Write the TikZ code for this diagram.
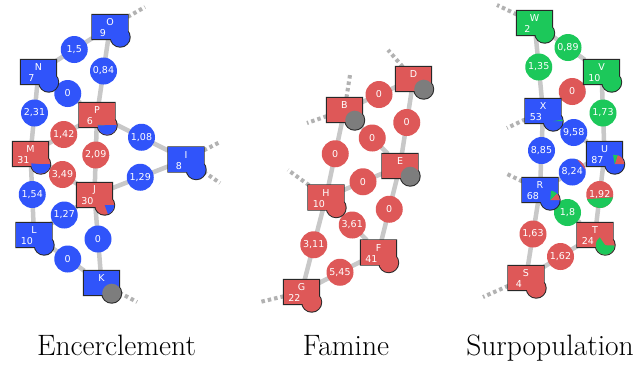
\documentclass[tikz,border=0pt]{standalone}
\usepackage{fontspec}
\newfontfamily\lblfont{DejaVu Sans}
\usetikzlibrary{calc}

\pgfdeclarelayer{bg}
\pgfdeclarelayer{mid}
\pgfdeclarelayer{fg}
\pgfsetlayers{bg,mid,main,fg}

\definecolor{nblue}{RGB}{48,84,250}
\definecolor{nred}{RGB}{222,88,88}
\definecolor{ngreen}{RGB}{28,200,90}
\definecolor{ngray}{RGB}{125,125,125}
\definecolor{edgegray}{RGB}{200,200,200}
\definecolor{stubgray}{RGB}{178,178,178}
\definecolor{rimcol}{RGB}{40,40,40}

\tikzset{
  sq/.style={rectangle, minimum width=35pt, minimum height=24pt, inner sep=0pt},
  link/.style={line width=4.5pt, draw=edgegray},
  stub/.style={line width=4pt, draw=stubgray, dash pattern=on 3.5pt off 3pt},
  wc/.style={circle, minimum size=27pt, inner sep=0pt},
  lbl/.style={text=white, font=\lblfont\fontsize{9.5}{10}\selectfont, inner sep=0pt},
  title/.style={font=\fontsize{29.5}{32}\selectfont, anchor=base, inner sep=0pt},
  rim/.style={draw=rimcol, line width=2pt},
}

% vertex: name, position, square colour, disc colour, letter, number
\newcommand\vtx[6]{%
  \node[sq] (#1) at (#2) {};
  \coordinate (#1-p) at ($(#1.south east)+(-7.5pt,2pt)$);
  \draw[rim] (#1-p) circle[radius=9.5pt] (#1.south west) rectangle (#1.north east);
  \fill[#3] (#1.south west) rectangle (#1.north east);
  \fill[#4] (#1-p) circle[radius=9.5pt];
  \begin{pgfonlayer}{fg}
    \node[lbl] (#1-l) at ($(#1.north)+(0,-7.5pt)$) {#5};
    \node[lbl] (#1-n) at ($(#1.south west)+(10.5pt,6pt)$) {#6};
  \end{pgfonlayer}
}

% pie slice: centre, radius, from angle, to angle, colour
\newcommand\pieslice[5]{%
  \fill[#5] (#1) -- ++(#3:#2) arc[start angle=#3, end angle=#4, radius=#2] -- cycle;}

% weighted link: name, end a, end b, colour, value
\newcommand\wgt[5]{%
  \begin{pgfonlayer}{bg}\draw[link] (#2) -- (#3);\end{pgfonlayer}
  \begin{pgfonlayer}{mid}\node[wc, fill=#4] (#1) at ($(#2)!0.5!(#3)$) {};\end{pgfonlayer}
  \begin{pgfonlayer}{fg}\node[lbl] (#1-t) at (#1) {#5};\end{pgfonlayer}
}
\newcommand\wslice[4]{%
  \begin{pgfonlayer}{mid}\pieslice{#1}{13.5pt}{#2}{#3}{#4}\end{pgfonlayer}}

\begin{document}
\begin{tikzpicture}[x=1pt, y=-1pt]
\useasboundingbox (0,0) rectangle (639,365);
\begin{pgfonlayer}{bg}
  \fill[white] (0,0) rectangle (639,365);
\end{pgfonlayer}

% ---------- Encerclement ----------
\vtx{O}{110,27}{nblue}{nblue}{O}{9}
\vtx{N}{38.5,72}{nblue}{nblue}{N}{7}
\vtx{P}{97,115}{nred}{nred}{P}{6}
\pieslice{P-p}{9.5pt}{178}{181}{ngreen}
\pieslice{P-p}{9.5pt}{181}{360}{nblue}
\vtx{I}{186,159.5}{nblue}{nblue}{I}{8}
\vtx{M}{30.5,154}{nred}{nred}{M}{31}
\pieslice{M-p}{9.5pt}{175}{360}{nblue}
\vtx{J}{94.5,195}{nred}{nred}{J}{30}
\pieslice{J-p}{9.5pt}{290}{360}{nblue}
\vtx{L}{34,235}{nblue}{nblue}{L}{10}
\vtx{K}{101.5,283}{nblue}{ngray}{K}{}

\wgt{wNO}{N}{O}{nblue}{1,5}
\wgt{wOP}{O}{P}{nblue}{0,84}
\wgt{wNM}{N}{M}{nblue}{2,31}
\wgt{wNP}{N}{P}{nblue}{0}
\wgt{wPI}{P}{I}{nblue}{1,08}
\wgt{wMP}{M}{P}{nred}{1,42}
\wgt{wPJ}{P}{J}{nred}{2,09}
\wslice{wPJ}{357}{360}{nblue}
\wgt{wMJ}{M}{J}{nred}{3,49}
\wgt{wML}{M}{L}{nblue}{1,54}
\wgt{wJI}{J}{I}{nblue}{1,29}
\wgt{wLJ}{L}{J}{nblue}{1,27}
\wgt{wJK}{J}{K}{nblue}{0}
\wgt{wLK}{L}{K}{nblue}{0}

\coordinate (O-x) at (145,7);
\coordinate (I-x1) at (220,142);
\coordinate (I-x2) at (220,183);
\coordinate (K-x) at (137,302);
\begin{pgfonlayer}{bg}
  \draw[stub] (O) -- (O-x);
  \draw[stub] (I) -- (I-x1);
  \draw[stub] (I) -- (I-x2);
  \draw[stub] (K) -- (K-x);
\end{pgfonlayer}

% ---------- Famine ----------
\vtx{D}{413.5,79}{nred}{ngray}{D}{}
\vtx{B}{344.5,110}{nred}{ngray}{B}{}
\vtx{E}{400,166}{nred}{ngray}{E}{}
\vtx{H}{326,197.5}{nred}{nred}{H}{10}
\vtx{F}{378.5,252.5}{nred}{nred}{F}{41}
\vtx{G}{301.5,292}{nred}{nred}{G}{22}

\wgt{wBD}{B}{D}{nred}{0}
\wgt{wDE}{D}{E}{nred}{0}
\wgt{wBE}{B}{E}{nred}{0}
\wgt{wBH}{B}{H}{nred}{0}
\wgt{wHE}{H}{E}{nred}{0}
\wgt{wEF}{E}{F}{nred}{0}
\wgt{wHF}{H}{F}{nred}{3,61}
\wgt{wHG}{H}{G}{nred}{3,11}
\wgt{wGF}{G}{F}{nred}{5,45}

\coordinate (D-x) at (388,50);
\coordinate (B-x1) at (350,75);
\coordinate (B-x2) at (307,123);
\coordinate (H-x) at (288,170);
\coordinate (G-x) at (260,302);
\begin{pgfonlayer}{bg}
  \draw[stub] (D) -- (D-x);
  \draw[stub] (B) -- (B-x1);
  \draw[stub] (B) -- (B-x2);
  \draw[stub] (H) -- (H-x);
  \draw[stub] (G) -- (G-x);
\end{pgfonlayer}

% ---------- Surpopulation ----------
\vtx{W}{534.5,23}{ngreen}{ngreen}{W}{2}
\vtx{V}{601.5,72}{ngreen}{ngreen}{V}{10}
\vtx{X}{543,111}{nblue}{nblue}{X}{53}
\pieslice{X-p}{9.5pt}{0}{10}{ngreen}
\vtx{U}{604.5,154}{nblue}{nblue}{U}{87}
\pieslice{U-p}{9.5pt}{0}{72}{nred}
\pieslice{U-p}{9.5pt}{72}{100}{ngreen}
\vtx{R}{540,190}{nblue}{nblue}{R}{68}
\pieslice{R-p}{9.5pt}{0}{45}{nred}
\pieslice{R-p}{9.5pt}{45}{85}{ngreen}
\vtx{T}{595,235}{nred}{nred}{T}{24}
\pieslice{T-p}{9.5pt}{125}{358}{ngreen}
\vtx{S}{526,278}{nred}{nred}{S}{4}

\wgt{wWV}{W}{V}{ngreen}{0,89}
\wgt{wWX}{W}{X}{ngreen}{1,35}
\wgt{wVX}{V}{X}{nred}{0}
\wslice{wVX}{352}{356}{ngreen}
\wslice{wVX}{356}{360}{nblue}
\wgt{wVU}{V}{U}{ngreen}{1,73}
\wgt{wXU}{X}{U}{nblue}{9,58}
\wgt{wXR}{X}{R}{nblue}{8,85}
\wgt{wUR}{U}{R}{nblue}{8,24}
\wslice{wUR}{8}{68}{nred}
\wslice{wUR}{68}{74}{ngreen}
\wgt{wUT}{U}{T}{nred}{1,92}
\wslice{wUT}{200}{348}{ngreen}
\wgt{wRT}{R}{T}{ngreen}{1,8}
\wgt{wRS}{R}{S}{nred}{1,63}
\wgt{wST}{S}{T}{nred}{1,62}

\coordinate (W-x) at (497,5);
\coordinate (X-x) at (507,128);
\coordinate (R-x) at (505,173);
\coordinate (S-x) at (483,297);
\begin{pgfonlayer}{bg}
  \draw[stub] (W) -- (W-x);
  \draw[stub] (X) -- (X-x);
  \draw[stub] (R) -- (R-x);
  \draw[stub] (S) -- (S-x);
\end{pgfonlayer}

% ---------- captions ----------
\node[title] (t1) at (116.5,355) {Encerclement};
\node[title] (t2) at (346,355) {Famine};
\node[title] (t3) at (550,355) {Surpopulation};
\end{tikzpicture}
\end{document}
